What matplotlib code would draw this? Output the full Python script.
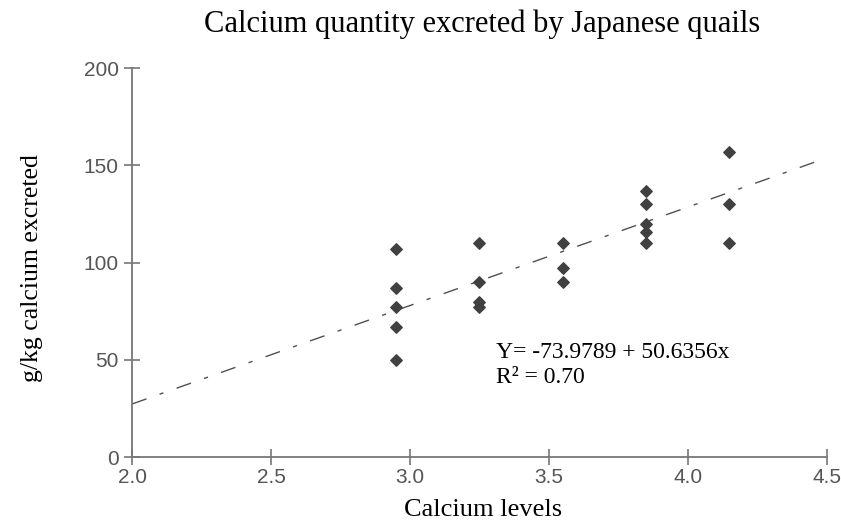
import numpy as np
import matplotlib.pyplot as plt

# niveles de calcio y calcio excretado (g/kg)
x_295 = [2.95, 2.95, 2.95, 2.95, 2.95]
y_295 = [107, 87, 77, 67, 50]
x_325 = [3.25, 3.25, 3.25, 3.25]
y_325 = [110, 90, 80, 77]
x_355 = [3.55, 3.55, 3.55]
y_355 = [110, 97, 90]
x_385 = [3.85, 3.85, 3.85, 3.85, 3.85]
y_385 = [137, 130, 120, 116, 110]
x_415 = [4.15, 4.15, 4.15]
y_415 = [157, 130, 110]

xs = x_295 + x_325 + x_355 + x_385 + x_415
ys = y_295 + y_325 + y_355 + y_385 + y_415

# recta de regresion
b0 = -73.9789
b1 = 50.6356
xr = np.array([2.0, 4.5])
yr = b0 + b1 * xr

xticks = [2.0, 2.5, 3.0, 3.5, 4.0, 4.5]
yticks = [0, 50, 100, 150, 200]

fig = plt.figure(figsize=(8.41, 5.29), dpi=100)
ax = fig.add_axes([0.157, 0.136, 0.826, 0.735])

ax.plot(xr, yr, color='#505050', lw=1.0, dashes=(11, 10, 3, 10))
ax.scatter(xs, ys, marker='D', s=34, color='#404040', zorder=3)

ax.set_xlim(2.0, 4.5)
ax.set_ylim(0, 200)
ax.set_xticks(xticks)
ax.set_xticklabels(['%.1f' % t for t in xticks])
ax.set_yticks(yticks)

for s in ['top', 'right']:
  ax.spines[s].set_visible(False)
for s in ['left', 'bottom']:
  ax.spines[s].set_color('#777777')
  ax.spines[s].set_linewidth(1.3)
ax.tick_params(direction='inout', length=12, width=1.2, color='#777777',
               labelcolor='#555555', labelsize=15)
ax.tick_params(axis='x', pad=2)
for lab in ax.get_xticklabels() + ax.get_yticklabels():
  lab.set_family('Liberation Sans')

fig.text(482/841, 1 - 24/529, 'Calcium quantity excreted by Japanese quails',
         family='Liberation Serif', fontsize=22, ha='center', va='center')
ax.set_xlabel('Calcium levels', family='Liberation Serif', fontsize=19)
ax.xaxis.set_label_coords(0.505, -0.108)
ax.set_ylabel('g/kg calcium excreted', family='Liberation Serif', fontsize=18.5)
ax.yaxis.set_label_coords(-0.128, 0.485)

ax.text(3.31, 54, 'Y= -73.9789 + 50.6356x', family='Liberation Serif', fontsize=17, va='center')
ax.text(3.31, 41, 'R² = 0.70', family='Liberation Serif', fontsize=17, va='center')

fig.savefig('out.png', dpi=100)
